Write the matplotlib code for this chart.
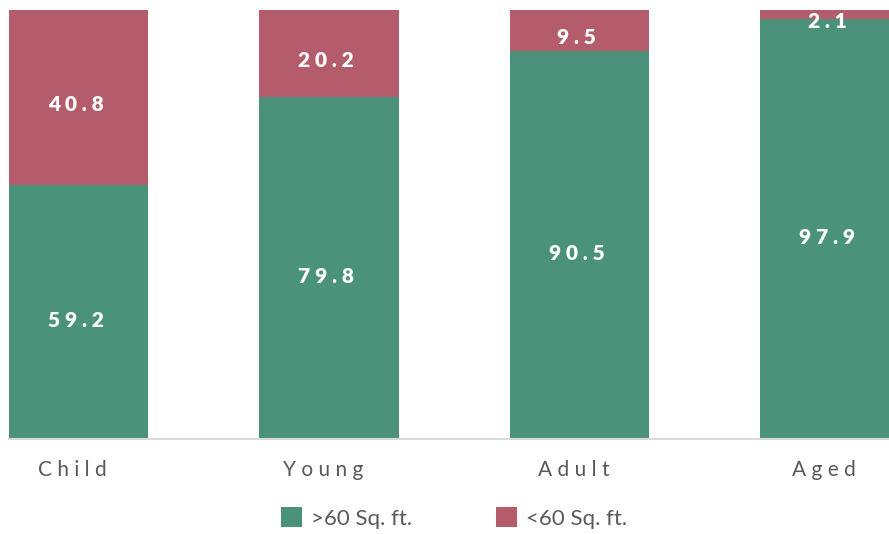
import matplotlib
matplotlib.use("Agg")
import matplotlib.pyplot as plt
import matplotlib.transforms as mtransforms
import numpy as np

categories = ["Child", "Young", "Adult", "Aged"]
above_60 = [59.2, 79.8, 90.5, 97.9]
below_60 = [40.8, 20.2, 9.5, 2.1]
series_names = [">60 Sq. ft.", "<60 Sq. ft."]

green = "#4a937a"
pink = "#b55c6c"

plt.rcParams['font.family'] = ['Lato', 'DejaVu Sans']


def spaced(s, sep):
    return sep.join(s)


fig = plt.figure(figsize=(8.89, 5.34), dpi=100)
ax = fig.add_axes([9 / 889, 95 / 534, 880 / 889, 429 / 534])

x = np.arange(len(categories))
w = 0.555
b1 = ax.bar(x, above_60, w, color=green, label=series_names[0])
b2 = ax.bar(x, below_60, w, bottom=above_60, color=pink, label=series_names[1])

# letter-spaced labels sit a little left of centre
shift_val = mtransforms.ScaledTranslation(-3 / 100, 0, fig.dpi_scale_trans)
for xi, a, b in zip(x, above_60, below_60):
    ax.text(xi, a / 2 - 2.0, spaced(f"{a:.1f}", " "), ha="center", va="center",
            color="white", fontsize=15, fontweight="heavy",
            transform=ax.transData + shift_val)
    ax.text(xi, a + b / 2 - 1.6, spaced(f"{b:.1f}", " "), ha="center", va="center",
            color="white", fontsize=15, fontweight="heavy",
            transform=ax.transData + shift_val)

ax.set_xlim(-w / 2, 3 + 59 / 250.5)
ax.set_ylim(0, 100)
ax.set_xticks(x)
ax.set_xticklabels([spaced(c, " ") for c in categories], color="#595959",
                   fontsize=15)
ax.tick_params(axis="x", length=0, pad=15)
shift_tick = mtransforms.ScaledTranslation(-6 / 100, 0, fig.dpi_scale_trans)
for lbl in ax.get_xticklabels():
    lbl.set_transform(lbl.get_transform() + shift_tick)
ax.set_yticks([])
for s in ["top", "right", "left"]:
    ax.spines[s].set_visible(False)
ax.spines["bottom"].set_color("#d9d9d9")
ax.spines["bottom"].set_linewidth(1.5)

fig.legend(handles=[b1, b2], labels=series_names, loc="center",
           bbox_to_anchor=(454 / 889, 1 - 518 / 534), ncol=2, frameon=False,
           fontsize=16, labelcolor="#595959", handlelength=0.95, handleheight=0.95,
           columnspacing=3.8, handletextpad=0.4)

fig.savefig("out.png", dpi=100)
